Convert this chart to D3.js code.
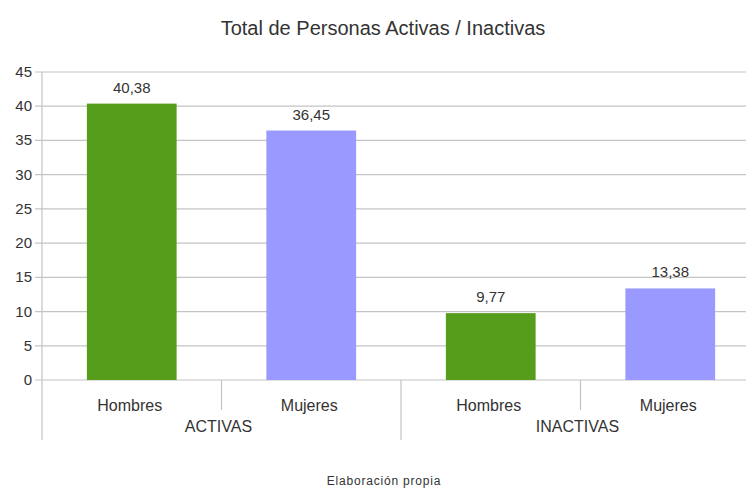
<!DOCTYPE html>
<html>
<head>
<meta charset="utf-8">
<script src="https://cdn.jsdelivr.net/npm/d3@7"></script>
<style>
  body { margin: 0; background: #fff; }
  svg { display: block; font-family: "Liberation Sans", Arial, sans-serif; }
  .grid line { stroke: #c4c4c4; stroke-width: 1.2; }
  .lbl { fill: #333; font-size: 15px; }
  .cat { fill: #333; font-size: 16px; }
</style>
</head>
<body>
<div id="chart"></div>
<script>
// data
const groups = ["ACTIVAS", "INACTIVAS"];
const sexes = ["Hombres", "Mujeres"];
const values = [40.38, 36.45, 9.77, 13.38];
const colors = ["#579d1c", "#9999ff"];
const yTicks = [0, 5, 10, 15, 20, 25, 30, 35, 40, 45];

const width = 746, height = 489;
const plotLeft = 42, plotRight = 760, plotTop = 72, plotBottom = 380;

const svg = d3.select("#chart").append("svg")
    .attr("width", width)
    .attr("height", height);

// bars in order: group x sex
const bars = [];
groups.forEach(function(g, gi) {
    sexes.forEach(function(s, si) {
        bars.push({ key: g + "-" + s, group: g, sex: s, si: si, value: values[gi * 2 + si] });
    });
});

const x = d3.scaleBand()
    .domain(bars.map(function(d) { return d.key; }))
    .range([plotLeft, plotRight])
    .paddingInner(0.5)
    .paddingOuter(0.25);

const xGroup = d3.scaleBand()
    .domain(groups)
    .range([plotLeft, plotRight]);

const y = d3.scaleLinear()
    .domain([0, 45])
    .range([plotBottom, plotTop]);

// gridlines
svg.append("g")
    .attr("class", "grid")
    .selectAll("line")
    .data(yTicks)
    .enter()
    .append("line")
    .attr("x1", plotLeft - 7)
    .attr("x2", plotRight)
    .attr("y1", function(d) { return y(d); })
    .attr("y2", function(d) { return y(d); });

// y axis labels
svg.append("g")
    .selectAll("text")
    .data(yTicks)
    .enter()
    .append("text")
    .attr("class", "lbl")
    .attr("x", plotLeft - 10)
    .attr("y", function(d) { return y(d) + 5; })
    .attr("text-anchor", "end")
    .text(function(d) { return d; });

// y axis line
svg.append("line")
    .attr("x1", plotLeft).attr("x2", plotLeft)
    .attr("y1", plotTop).attr("y2", plotBottom)
    .attr("stroke", "#c4c4c4").attr("stroke-width", 1.2);

// bars
svg.selectAll("rect.bar")
    .data(bars)
    .enter()
    .append("rect")
    .attr("class", "bar")
    .attr("x", function(d) { return x(d.key); })
    .attr("width", x.bandwidth())
    .attr("y", function(d) { return y(d.value); })
    .attr("height", function(d) { return y(0) - y(d.value); })
    .attr("fill", function(d) { return colors[d.si]; });

// value labels
svg.selectAll("text.val")
    .data(bars)
    .enter()
    .append("text")
    .attr("class", "lbl")
    .attr("x", function(d) { return x(d.key) + x.bandwidth() / 2; })
    .attr("y", function(d) { return y(d.value) - 11; })
    .attr("text-anchor", "middle")
    .text(function(d) { return d3.format(".2f")(d.value).replace(".", ","); });

// category dividers
const step = x.step();
const inner = bars.map(function(d) { return x(d.key) + x.bandwidth() / 2 + step / 2; })
    .filter(function(d, i) { return i % 2 === 0; });
svg.selectAll("line.inner")
    .data(inner)
    .enter()
    .append("line")
    .attr("x1", function(d) { return d; }).attr("x2", function(d) { return d; })
    .attr("y1", plotBottom).attr("y2", 410)
    .attr("stroke", "#c4c4c4").attr("stroke-width", 1.2);

svg.selectAll("line.outer")
    .data(groups.concat(["end"]))
    .enter()
    .append("line")
    .attr("x1", function(d) { return d === "end" ? plotRight : xGroup(d); })
    .attr("x2", function(d) { return d === "end" ? plotRight : xGroup(d); })
    .attr("y1", plotBottom).attr("y2", 440)
    .attr("stroke", "#c4c4c4").attr("stroke-width", 1.2);

// sex labels
svg.selectAll("text.sex")
    .data(bars)
    .enter()
    .append("text")
    .attr("class", "cat")
    .attr("x", function(d) { return x(d.key) + x.bandwidth() / 2 - 2; })
    .attr("y", 411)
    .attr("text-anchor", "middle")
    .text(function(d) { return d.sex; });

// group labels
svg.selectAll("text.grp")
    .data(groups)
    .enter()
    .append("text")
    .attr("class", "cat")
    .attr("x", function(d) { return xGroup(d) + xGroup.bandwidth() / 2 - 3; })
    .attr("y", 432)
    .attr("text-anchor", "middle")
    .text(function(d) { return d; });

// title
svg.append("text")
    .attr("x", 383)
    .attr("y", 35)
    .attr("text-anchor", "middle")
    .attr("fill", "#333")
    .style("font-size", "20px")
    .text("Total de Personas Activas / Inactivas");

// footer
svg.append("text")
    .attr("x", 384)
    .attr("y", 485)
    .attr("text-anchor", "middle")
    .attr("fill", "#333")
    .style("font-size", "12px")
    .style("letter-spacing", "0.8px")
    .text("Elaboración propia");
</script>
</body>
</html>
